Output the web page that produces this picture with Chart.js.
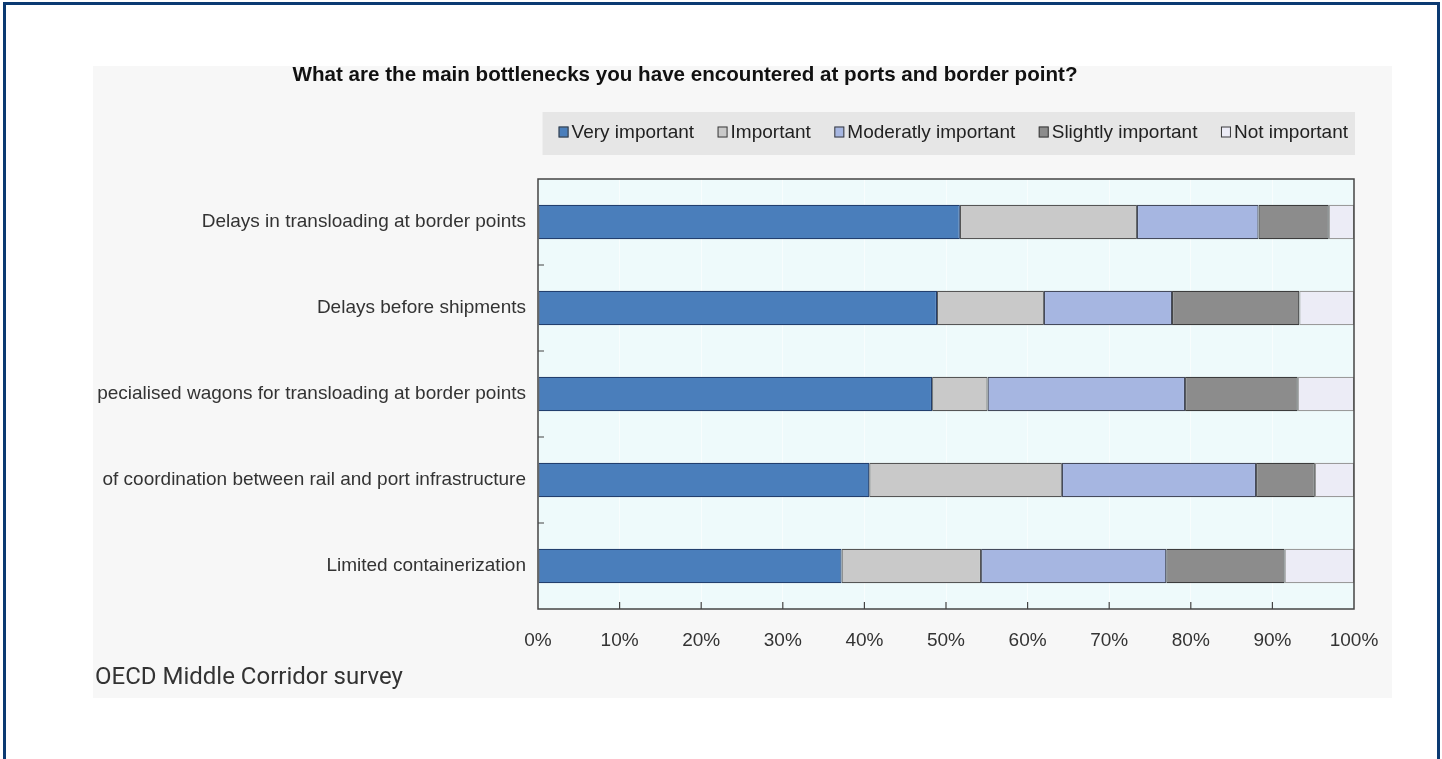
<!DOCTYPE html>
<html>
<head>
<meta charset="utf-8">
<script src="https://cdn.jsdelivr.net/npm/chart.js@4.4.1/dist/chart.umd.min.js"></script>
<style>
  html, body { margin: 0; padding: 0; background: #fff; }
  body { width: 1442px; height: 759px; overflow: hidden; position: relative; }
  #frame { position: absolute; left: 3px; top: 2px; width: 1437px; height: 800px; box-sizing: border-box; border: 3px solid #0b3a72; }
  #panel { position: absolute; left: 93px; top: 66px; width: 1299px; height: 632px; background: #f7f7f7; }
  #chart { position: absolute; left: 0; top: 0; }
  #title { position: absolute; left: 0; width: 1370px; top: 62px; text-align: center; font: bold 20.6px/24px "Liberation Sans", Arial, sans-serif; color: #111; }
  #source { position: absolute; left: 95px; top: 662px; font: 24px/28px Roboto, sans-serif; color: #333; }
</style>
</head>
<body>
<div id="frame"></div>
<div id="panel"><canvas id="chart" width="1299" height="632"></canvas></div>
<div id="title">What are the main bottlenecks you have encountered at ports and border point?</div>
<div id="source">OECD Middle Corridor survey</div>
<script>
// labels as they show in the picture (the two long ones are cut on the left)
const categories = [
    "Delays in transloading at border points",
    "Delays before shipments",
    "pecialised wagons for transloading at border points",
    "of coordination between rail and port infrastructure",
    "Limited containerization"
];

const seriesNames = ["Very important", "Important", "Moderatly important", "Slightly important", "Not important"];

const veryImportant = [51.7, 48.9, 48.3, 40.6, 37.2];
const important = [21.7, 13.1, 6.8, 23.6, 17.1];
const moderatelyImportant = [14.9, 15.7, 24.2, 23.8, 22.7];
const slightlyImportant = [8.6, 15.6, 13.8, 7.2, 14.5];
const notImportant = [3.1, 6.7, 6.9, 4.8, 8.5];

const xTickValues = [0, 10, 20, 30, 40, 50, 60, 70, 80, 90, 100];

const fills = ["#4a7ebb", "#c9c9c9", "#a6b6e1", "#8c8c8c", "#ececf6"];
const edges = ["#223f6e", "#555555", "#444a5c", "#3c3c3c", "#9a9a9a"];

const FONT = "'Liberation Sans', Arial, sans-serif";

const plotFrame = {
    id: "plotFrame",
    beforeDraw(chart) {
        const { ctx, chartArea: a } = chart;
        ctx.save();
        ctx.fillStyle = "#eefafb";
        ctx.fillRect(a.left, a.top, a.right - a.left, a.bottom - a.top);
        ctx.restore();
    },
    afterDatasetsDraw(chart) {
        const { ctx, chartArea: a, scales: { x, y } } = chart;
        ctx.save();
        ctx.strokeStyle = "#444";
        ctx.lineWidth = 1.5;
        ctx.strokeRect(a.left, a.top, a.right - a.left, a.bottom - a.top);

        // small ticks pointing into the plot
        ctx.lineWidth = 1.2;
        ctx.beginPath();
        x.ticks.forEach(t => {
            if (t.value <= x.min || t.value >= x.max) return;
            const px = x.getPixelForValue(t.value);
            ctx.moveTo(px, a.bottom);
            ctx.lineTo(px, a.bottom - 7);
        });
        for (let i = 1; i < categories.length; i++) {
            const py = (y.getPixelForValue(i - 1) + y.getPixelForValue(i)) / 2;
            ctx.moveTo(a.left, py);
            ctx.lineTo(a.left + 6, py);
        }
        ctx.stroke();
        ctx.restore();
    }
};

const boxLegend = {
    id: "boxLegend",
    afterDraw(chart) {
        const { ctx, chartArea: a } = chart;
        const sets = chart.data.datasets;
        const sq = 10, gapIn = 3, gapOut = 23.5;

        ctx.save();
        ctx.font = "19px " + FONT;
        const widths = sets.map(d => ctx.measureText(d.label).width);
        const total = widths.reduce((s, w) => s + w, 0) + sets.length * (sq + gapIn) + (sets.length - 1) * gapOut;
        let x = a.right - 6 - total;
        const cy = 66;

        ctx.fillStyle = "#e6e6e6";
        ctx.fillRect(x - 16, 46, a.right + 1 - (x - 16), 43);

        ctx.textBaseline = "middle";
        ctx.textAlign = "left";
        sets.forEach((d, i) => {
            ctx.fillStyle = d.backgroundColor;
            ctx.fillRect(x, cy - 5.5, sq, 11);
            ctx.strokeStyle = "#3a3a3a";
            ctx.lineWidth = 1;
            ctx.strokeRect(x + 0.5, cy - 5, sq - 1, 10);
            ctx.fillStyle = "#222";
            ctx.fillText(d.label, x + sq + gapIn, cy + 1);
            x += sq + gapIn + widths[i] + gapOut;
        });
        ctx.restore();
    }
};

const seriesData = [veryImportant, important, moderatelyImportant, slightlyImportant, notImportant];

new Chart(document.getElementById("chart"), {
    type: "bar",
    data: {
        labels: categories,
        datasets: seriesNames.map((name, i) => ({
            label: name,
            data: seriesData[i],
            backgroundColor: fills[i],
            borderColor: edges[i],
            borderWidth: 1.2,
            borderSkipped: false,
            barPercentage: 0.4,
            categoryPercentage: 1
        }))
    },
    options: {
        indexAxis: "y",
        responsive: false,
        animation: false,
        layout: { padding: { top: 113, right: 38, bottom: 0, left: 0 } },
        plugins: {
            legend: { display: false },
            tooltip: { enabled: false },
            title: { display: false }
        },
        scales: {
            x: {
                stacked: true,
                min: 0,
                max: 100,
                afterBuildTicks: s => { s.ticks = xTickValues.map(v => ({ value: v })); },
                afterFit: s => { s.height = 89; s.paddingRight = 0; s.paddingLeft = 0; },
                grid: { color: "rgba(255,255,255,0.6)", lineWidth: 1, drawTicks: false },
                border: { display: false },
                ticks: {
                    padding: 20,
                    color: "#333",
                    font: { family: FONT, size: 19 },
                    callback: v => v + "%",
                    maxRotation: 0
                }
            },
            y: {
                stacked: true,
                afterFit: s => { s.width = 445; },
                grid: { display: false, drawTicks: false },
                border: { display: false },
                ticks: {
                    padding: 12,
                    color: "#333",
                    font: { family: FONT, size: 19 },
                    autoSkip: false
                }
            }
        }
    },
    plugins: [plotFrame, boxLegend]
});
</script>
</body>
</html>
